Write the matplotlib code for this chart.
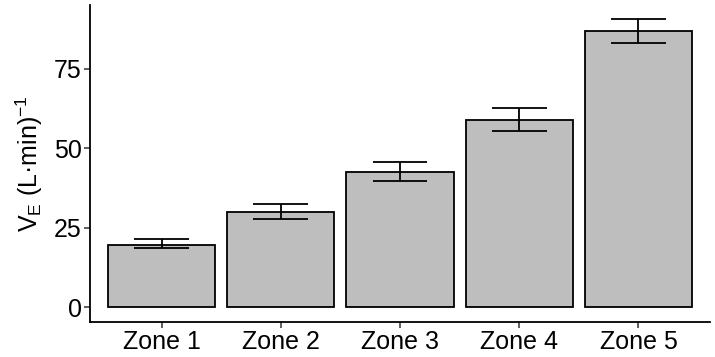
import matplotlib
matplotlib.use("Agg")
import matplotlib.pyplot as plt
import numpy as np

categories = ["Zone 1", "Zone 2", "Zone 3", "Zone 4", "Zone 5"]
means = [19.7, 30.0, 42.5, 59.0, 86.9]
upper = [21.3, 32.3, 45.6, 62.5, 90.5]
lower = [18.5, 27.7, 39.7, 55.4, 83.2]
yticks = [0, 25, 50, 75]

plt.rcParams['font.family'] = ['Liberation Sans', 'DejaVu Sans']
plt.rcParams['mathtext.fontset'] = 'custom'
plt.rcParams['mathtext.rm'] = 'Liberation Sans'
plt.rcParams['mathtext.it'] = 'Liberation Sans:italic'

fig = plt.figure(figsize=(7.15, 3.57), dpi=100)
ax = fig.add_axes([90/715, (357-321.7)/357, (710-90)/715, (321.7-5)/357])

x = np.arange(len(categories))
ax.bar(x, means, width=0.9, color='#BEBEBE', edgecolor='black', linewidth=1.3, zorder=2)
cap = 0.23
ax.vlines(x, lower, upper, color='black', linewidth=1.3, zorder=3)
ax.hlines(upper, x - cap, x + cap, color='black', linewidth=1.3, zorder=3)
ax.hlines(lower, x - cap, x + cap, color='black', linewidth=1.3, zorder=3)

ax.set_xlim(-0.6, len(categories) - 0.4)
ax.set_ylim(-4.55, 95.0)
ax.set_xticks(x)
ax.set_xticklabels(categories, fontsize=18)
ax.set_yticks(yticks)
ax.set_yticklabels([str(v) for v in yticks], fontsize=18)
ax.tick_params(axis='both', direction='out', length=4, width=1.1, color='#333333', pad=2)
for s in ['top', 'right']:
    ax.spines[s].set_visible(False)
for s in ['left', 'bottom']:
    ax.spines[s].set_linewidth(1.3)
    ax.spines[s].set_color('black')

ax.set_ylabel(r'V$_\mathrm{E}$ (L·min)$^{-1}$', fontsize=18, labelpad=6)

fig.savefig('out.png', dpi=100)
